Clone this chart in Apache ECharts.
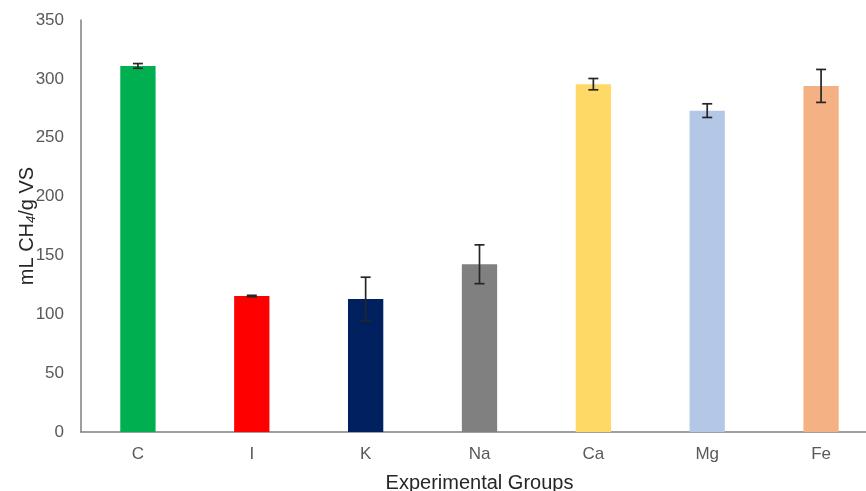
<!DOCTYPE html>
<html><head><meta charset="utf-8">
<script src="https://cdn.jsdelivr.net/npm/echarts@6/dist/echarts.min.js"></script>
<style>html,body{margin:0;padding:0;background:#fff;overflow:hidden}#c{width:866px;height:491px}</style>
</head><body><div id="c"></div>
<script>
const categories = ['C','I','K','Na','Ca','Mg','Fe'];
const values = [311, 115.5, 113, 142.5, 295.5, 273, 294];
const errors = [2, 0.6, 18.5, 16.5, 4.8, 5.8, 14];
const colors = ['#00B050','#FF0000','#002060','#808080','#FFD966','#B4C7E7','#F4B183'];
const yTicks = [0,50,100,150,200,250,300,350];

const chart = echarts.init(document.getElementById('c'), null, {renderer:'canvas'});
const font = 'Liberation Sans, Arial, sans-serif';
chart.setOption({
  animation:false,
  grid:{left:81, width:797, top:20, bottom:59, containLabel:false, outerBoundsMode:'none'},
  xAxis:{type:'category', data:categories,
    axisLine:{lineStyle:{color:'#7f7f7f', width:1.5}},
    axisTick:{show:false},
    axisLabel:{color:'#595959', fontSize:17, fontFamily:font, margin:14},
    name:'Experimental Groups', nameLocation:'middle', nameGap:41,
    nameTextStyle:{color:'#262626', fontSize:20, fontFamily:font}
  },
  yAxis:{type:'value', min:0, max:350, interval:50,
    axisLine:{show:true, lineStyle:{color:'#7f7f7f', width:1.5}},
    axisTick:{show:false}, splitLine:{show:false},
    axisLabel:{color:'#595959', fontSize:17, fontFamily:font, margin:17},
    name:'{a|mL CH}{s|4}{a|/g VS}', nameLocation:'middle', nameGap:43, nameRotate:90,
    nameMoveOverlap:false,
    nameTextStyle:{rich:{
      a:{color:'#262626', fontSize:20, fontFamily:font},
      s:{color:'#262626', fontSize:13, fontFamily:font, fontStyle:'italic', verticalAlign:'bottom', padding:[9,0,0,0]}
    }}
  },
  series:[
    {type:'bar', data:values.map((v,i)=>({value:v, itemStyle:{color:colors[i]}})), barWidth:'31%'},
    {type:'custom', data:values.map((v,i)=>[i, v-errors[i], v+errors[i]]),
      z:10,
      renderItem:function(params, api){
        const lo = api.coord([api.value(0), api.value(1)]);
        const hi = api.coord([api.value(0), api.value(2)]);
        const hw = 5;
        const st = {stroke:'#262626', lineWidth:1.7};
        return {type:'group', children:[
          {type:'line', shape:{x1:hi[0],y1:hi[1],x2:lo[0],y2:lo[1]}, style:st},
          {type:'line', shape:{x1:hi[0]-hw,y1:hi[1],x2:hi[0]+hw,y2:hi[1]}, style:st},
          {type:'line', shape:{x1:lo[0]-hw,y1:lo[1],x2:lo[0]+hw,y2:lo[1]}, style:st}
        ]};
      }
    }
  ]
});
</script></body></html>
